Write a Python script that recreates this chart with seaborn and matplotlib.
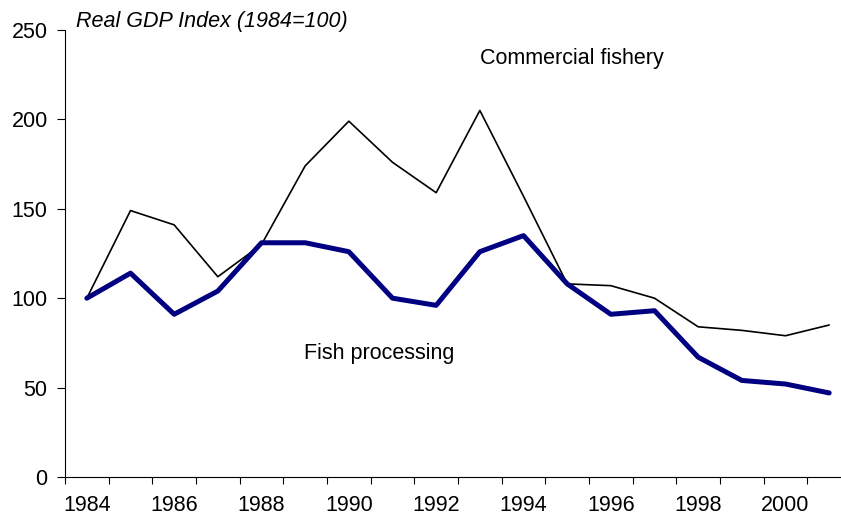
import matplotlib
matplotlib.use("Agg")
import matplotlib.pyplot as plt
import pandas as pd
import seaborn as sns

# Real GDP index, 1984 = 100
years = list(range(1984, 2002))
commercial_fishery = [100, 149, 141, 112, 130, 174, 199, 176, 159, 205,
                      157, 108, 107, 100, 84, 82, 79, 85]
fish_processing = [100, 114, 91, 104, 131, 131, 126, 100, 96, 126,
                   135, 108, 91, 93, 67, 54, 52, 47]

df = pd.DataFrame({'year': years,
                   'Commercial fishery': commercial_fishery,
                   'Fish processing': fish_processing})

sns.set_style('white')
plt.rcParams['font.family'] = ['Liberation Sans', 'DejaVu Sans']
plt.rcParams['text.color'] = 'black'
plt.rcParams['xtick.labelcolor'] = 'black'
plt.rcParams['ytick.labelcolor'] = 'black'
fs = 15.5

fig = plt.figure(figsize=(8.41, 5.17), dpi=100)
ax = fig.add_axes([0.0773, 0.0774, 0.9346, 0.8646])

sns.lineplot(data=df, x='year', y='Commercial fishery', color='black',
             linewidth=1.2, ax=ax)
sns.lineplot(data=df, x='year', y='Fish processing', color='#000080',
             linewidth=3.6, ax=ax, solid_capstyle='round')

ax.set_xlim(1983.5, 2001.5)
ax.set_ylim(0, 250)
ax.set_yticks([0, 50, 100, 150, 200, 250])
ax.set_xticks(years[::2])
ax.set_xticks([y - 0.5 for y in years] + [2001.5], minor=True)
ax.tick_params(axis='x', which='major', length=0, pad=13, labelsize=fs,
               labelcolor='black')
ax.tick_params(axis='x', which='minor', length=5, width=0.8, direction='out',
               bottom=True, color='black')
ax.tick_params(axis='y', length=5.5, width=0.8, direction='out', left=True,
               pad=7, labelsize=fs, color='black', labelcolor='black')
ax.set_xlabel('')
ax.set_ylabel('')

for side in ['top', 'right']:
    ax.spines[side].set_visible(False)
for side in ['left', 'bottom']:
    ax.spines[side].set_color('black')
    ax.spines[side].set_linewidth(0.8)

# annotations
fig.text(76 / 841, 1 - 21 / 517, 'Real GDP Index (1984=100)', fontsize=fs,
         style='italic', va='center', ha='left', color='black')
ax.text(1993.0, 234, 'Commercial fishery', fontsize=fs, va='center', ha='left',
        color='black')
ax.text(1988.97, 69, 'Fish processing', fontsize=fs, va='center', ha='left',
        color='black')

fig.savefig('out.png', dpi=100)
